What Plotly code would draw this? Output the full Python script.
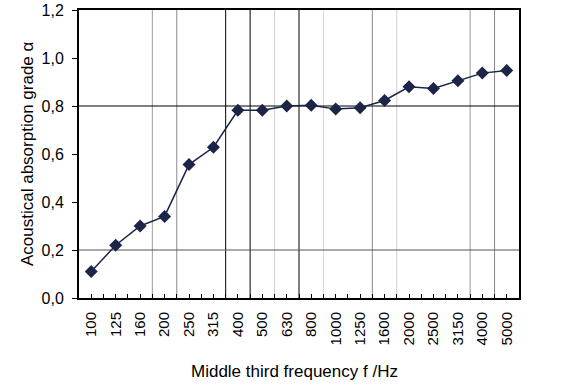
import plotly.graph_objects as go

frequencies = ["100", "125", "160", "200", "250", "315", "400", "500", "630",
               "800", "1000", "1250", "1600", "2000", "2500", "3150", "4000", "5000"]
alpha = [0.11, 0.22, 0.30, 0.34, 0.556, 0.628, 0.782, 0.782, 0.80,
         0.803, 0.787, 0.793, 0.823, 0.88, 0.873, 0.905, 0.937, 0.948]
y_ticks = [0.0, 0.2, 0.4, 0.6, 0.8, 1.0, 1.2]
y_tick_labels = ["0,0", "0,2", "0,4", "0,6", "0,8", "1,0", "1,2"]
x_title = "Middle third frequency f /Hz"
y_title = "Acoustical absorption grade α"

# vertical grid lines sit on category boundaries (index of boundary -> colour)
v_grid = {3: "#9a9a9a", 4: "#8a8a8a", 6: "#000000", 7: "#000000", 8: "#d2d2d2",
          9: "#000000", 10: "#d8d8d8", 12: "#888888", 13: "#d0d0d0",
          16: "#999999", 17: "#888888"}
h_grid = {0.2: "#555555", 0.8: "#000000"}

positions = list(range(len(frequencies)))
font = "Liberation Sans, Arial, sans-serif"

fig = go.Figure()
fig.add_trace(go.Scatter(
    x=positions, y=alpha, mode="lines+markers",
    line=dict(color="#1c2547", width=1.5),
    marker=dict(symbol="diamond", size=10, color="#1c2547"),
    showlegend=False, cliponaxis=False,
))

shapes = []
for k, c in v_grid.items():
    shapes.append(dict(type="line", xref="x", yref="paper", x0=k - 0.5, x1=k - 0.5,
                       y0=0, y1=1, line=dict(color=c, width=1), layer="below"))
for v, c in h_grid.items():
    shapes.append(dict(type="line", xref="paper", yref="y", x0=0, x1=1,
                       y0=v, y1=v, line=dict(color=c, width=1), layer="below"))

annotations = [
    dict(text=x_title, xref="paper", yref="paper", x=0.5, y=0, xshift=-5, yshift=-73,
         xanchor="center", yanchor="middle", showarrow=False, font=dict(size=17)),
    dict(text=y_title, xref="paper", yref="paper", x=0, y=0.5, xshift=-52,
         xanchor="center", yanchor="middle", textangle=-90, showarrow=False,
         font=dict(size=17)),
]

fig.update_layout(
    width=562, height=387,
    margin=dict(l=79, r=43, t=10, b=89),
    paper_bgcolor="white", plot_bgcolor="white",
    font=dict(family=font, color="black", size=15),
    shapes=shapes, annotations=annotations,
    xaxis=dict(
        range=[-0.5, len(frequencies) - 0.5], automargin=False,
        tickmode="array", tickvals=positions, ticktext=frequencies,
        tickangle=-90, ticks="inside", ticklen=4, tickcolor="black", tickwidth=1,
        minor=dict(tick0=0.5, dtick=1, ticks="inside", ticklen=4,
                   tickcolor="black", showgrid=False),
        showgrid=False, zeroline=False,
        showline=True, linecolor="black", linewidth=2, mirror=True,
        tickfont=dict(size=15), ticklabelstandoff=6,
    ),
    yaxis=dict(
        range=[0, 1.2], tickmode="array", tickvals=y_ticks, ticktext=y_tick_labels,
        automargin=False,
        ticks="outside", ticklen=5, tickcolor="black",
        showgrid=False, zeroline=False,
        showline=True, linecolor="black", linewidth=2, mirror=True,
        tickfont=dict(size=16), ticklabelstandoff=5,
    ),
)

fig.write_html("out.html", config={"displayModeBar": False},
               post_script="document.body.style.margin='0';document.body.style.overflow='hidden';")
